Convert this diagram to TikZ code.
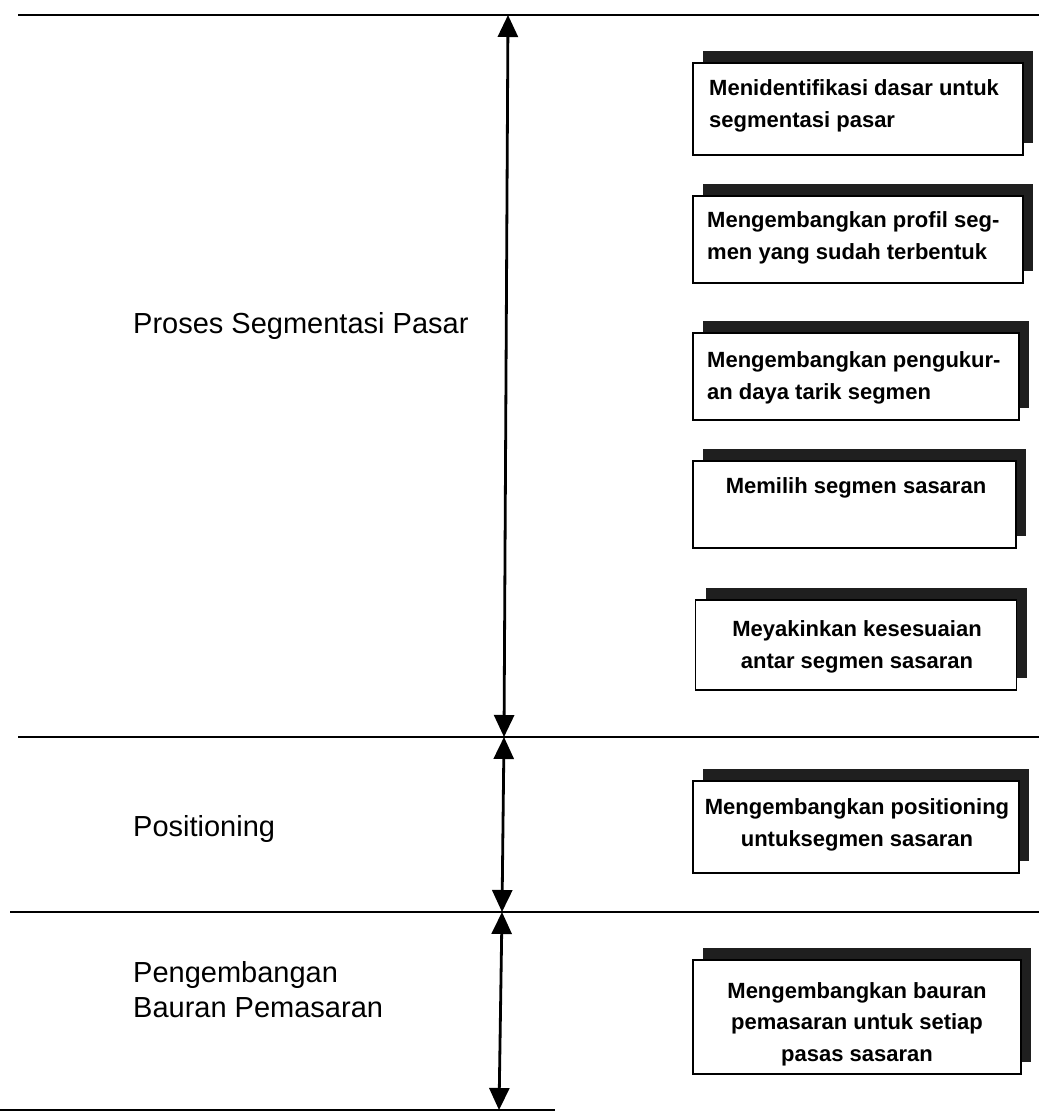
\documentclass[tikz,border=0pt]{standalone}
\usepackage{fontspec}
\setmainfont{Liberation Sans}
\usetikzlibrary{arrows.meta,shadows}
\begin{document}
\begin{tikzpicture}[x=1pt,y=-1pt,
  rule/.style={line width=2.2pt},
  arr/.style={line width=2.8pt,{Triangle[width=20pt,length=22pt]}-{Triangle[width=20pt,length=22pt]}},
  boxstyle/.style={draw,line width=1.8pt,fill=white,minimum width=330pt,inner sep=0pt,
     drop shadow={shadow xshift=10pt,shadow yshift=12pt,fill=black!88,opacity=1}},
  boxtxt/.style={font=\fontsize{22}{31.5}\selectfont\bfseries,inner sep=0pt},
  lbl/.style={font=\fontsize{29}{35}\selectfont,inner sep=0pt,anchor=west,align=left}]
\useasboundingbox (0,0) rectangle (1039,1114);
% horizontal rules
\coordinate (h0s) at (18,15);   \coordinate (h0e) at (1039,15);
\coordinate (h1s) at (18,737);  \coordinate (h1e) at (1039,737);
\coordinate (h2s) at (10,912);  \coordinate (h2e) at (1039,912);
\coordinate (h3s) at (0,1110);  \coordinate (h3e) at (555,1110);
\draw[rule] (h0s) -- (h0e);
\draw[rule] (h1s) -- (h1e);
\draw[rule] (h2s) -- (h2e);
\draw[rule] (h3s) -- (h3e);
% vertical arrows
\coordinate (a0) at (508,15);
\coordinate (a1) at (504,737);
\coordinate (a2) at (502,912);
\coordinate (a3) at (499,1110);
\draw[arr] (a0) -- (a1);
\draw[arr] (a1) -- (a2);
\draw[arr] (a2) -- (a3);
% labels
\node[lbl] (L1) at (133,326) {Proses Segmentasi Pasar};
\node[lbl] (L2) at (133,829) {Positioning};
\node[lbl] (L3) at (133,990) {Pengembangan\\Bauran Pemasaran};
% boxes
\node[boxstyle,minimum height=92pt] (b1) at (858,109) {};
\node[boxstyle,minimum height=87pt] (b2) at (858,239.5) {};
\node[boxstyle,minimum height=87pt,minimum width=326pt] (b3) at (856,376.5) {};
\node[boxstyle,minimum height=87pt,minimum width=323pt] (b4) at (854.5,504.5) {};
\node[boxstyle,minimum height=90pt,minimum width=321pt] (b5) at (856,645) {};
\node[boxstyle,minimum height=92pt,minimum width=326pt] (b6) at (856,827) {};
\node[boxstyle,minimum height=114pt,minimum width=328pt] (b7) at (857,1017) {};
% box texts
\node[boxtxt,anchor=west,align=left] (t1) at (709,106) {Menidentifikasi dasar untuk\\segmentasi pasar};
\node[boxtxt,anchor=west,align=left] (t2) at (707,238) {Mengembangkan profil seg-\\men yang sudah terbentuk};
\node[boxtxt,anchor=west,align=left] (t3) at (707,378) {Mengembangkan pengukur-\\an daya tarik segmen};
\node[boxtxt,align=center] (t4) at (856,488) {Memilih segmen sasaran};
\node[boxtxt,align=center] (t5) at (857,647) {Meyakinkan kesesuaian\\antar segmen sasaran};
\node[boxtxt,align=center] (t6) at (857,825) {Mengembangkan positioning\\untuksegmen sasaran};
\node[boxtxt,align=center] (t7) at (857,1024) {Mengembangkan bauran\\pemasaran untuk setiap\\pasas sasaran};
\end{tikzpicture}
\end{document}
